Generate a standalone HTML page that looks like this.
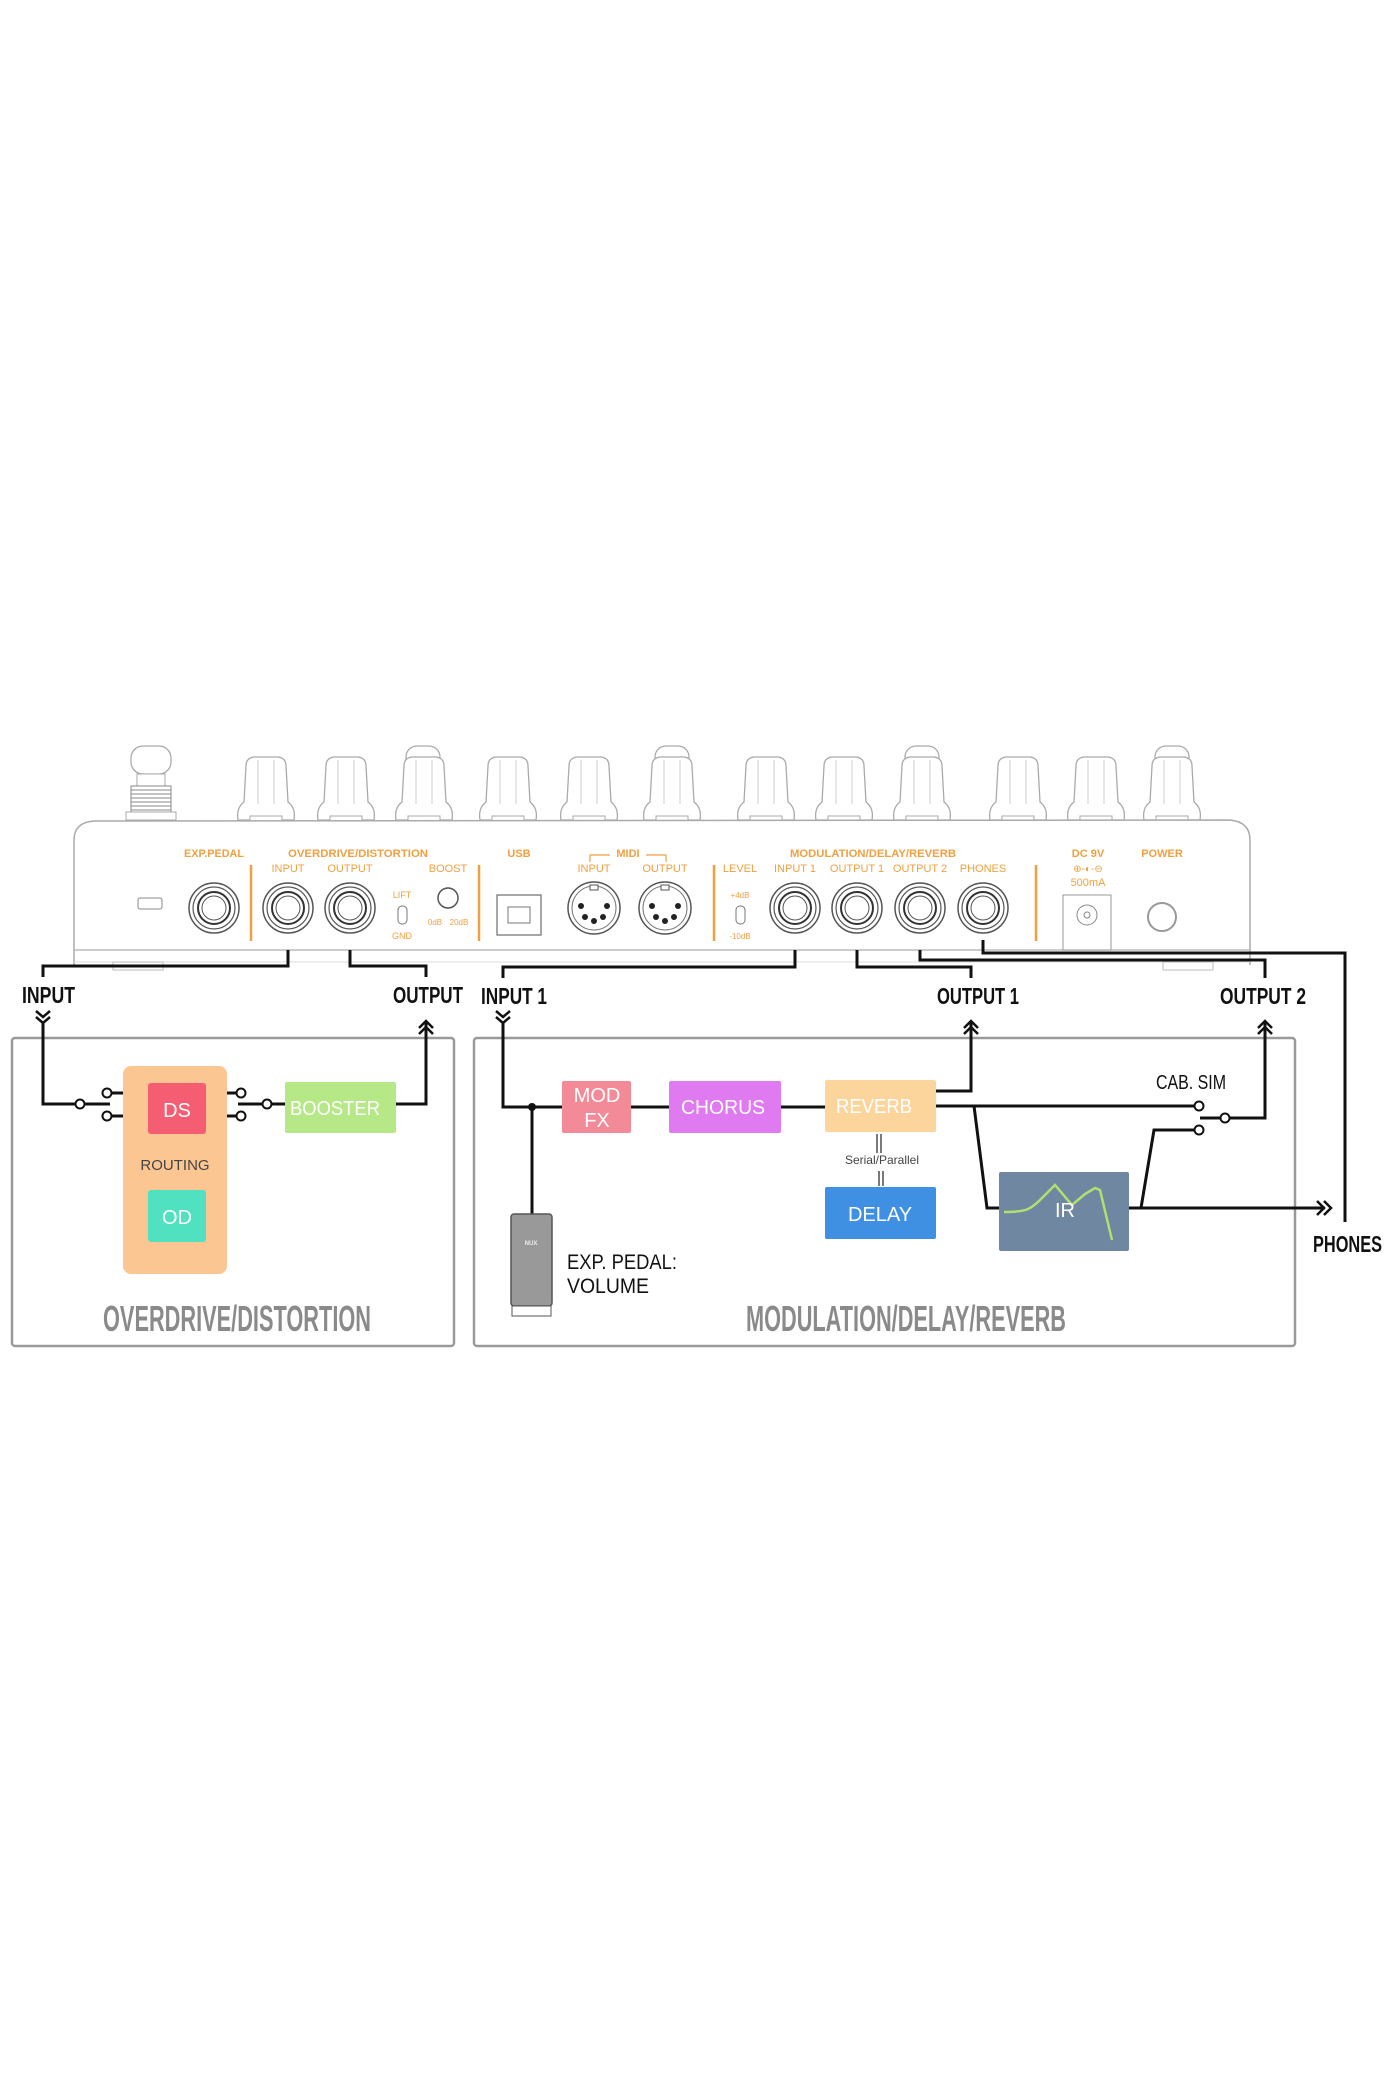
<!DOCTYPE html>
<html><head><meta charset="utf-8"><style>
html,body{margin:0;padding:0;background:#fff;}
svg{display:block;}
</style></head><body>
<svg width="1392" height="2092" viewBox="0 0 1392 2092" xmlns="http://www.w3.org/2000/svg" font-family="Liberation Sans, sans-serif">
<defs>
<g id="knob"><path d="M-28,74 Q-30,62 -22,56 L-20,20 Q-20,12 -12,11 L12,11 Q20,12 20,20 L22,56 Q30,62 28,74 Z" fill="#fff" stroke="#aaa" stroke-width="1.3"/><line x1="-8" y1="14" x2="-8" y2="58" stroke="#ccc"/><line x1="8" y1="14" x2="8" y2="58" stroke="#ccc"/><rect x="-16" y="70" width="32" height="6" fill="#fff" stroke="#aaa"/></g>
<g id="jack"><circle r="25" fill="#fff" stroke="#555" stroke-width="1.5"/><circle r="21" fill="none" stroke="#555" stroke-width="1.2"/><circle r="16" fill="none" stroke="#333" stroke-width="2"/><circle r="12" fill="#fff" stroke="#555" stroke-width="1"/></g>
<g id="midi"><circle r="26" fill="#fff" stroke="#555" stroke-width="1.5"/><circle r="22" fill="none" stroke="#777"/><rect x="-4" y="-23" width="8" height="5" fill="#fff" stroke="#555"/><circle cx="-13" cy="-2" r="3" fill="#222"/><circle cx="13" cy="-2" r="3" fill="#222"/><circle cx="-9" cy="9" r="3" fill="#222"/><circle cx="9" cy="9" r="3" fill="#222"/><circle cx="0" cy="13" r="3" fill="#222"/></g>
</defs>

<g>
<rect x="131" y="746" width="40" height="28" rx="12" fill="#fff" stroke="#aaa" stroke-width="1.3"/>
<rect x="137" y="774" width="28" height="12" fill="#fff" stroke="#aaa"/>
<rect x="131" y="786" width="40" height="28" fill="#fff" stroke="#888"/>
<g stroke="#888" stroke-width="1"><line x1="131" y1="790" x2="171" y2="790"/><line x1="131" y1="794" x2="171" y2="794"/><line x1="131" y1="798" x2="171" y2="798"/><line x1="131" y1="802" x2="171" y2="802"/><line x1="131" y1="806" x2="171" y2="806"/><line x1="131" y1="810" x2="171" y2="810"/></g>
<rect x="126" y="812" width="50" height="8" fill="#fff" stroke="#aaa"/>
<use href="#knob" x="266" y="746"/>
<use href="#knob" x="346" y="746"/>
<rect x="406" y="746" width="34" height="26" rx="11" fill="#fff" stroke="#aaa" stroke-width="1.3"/>
<use href="#knob" x="424" y="746"/>
<use href="#knob" x="508" y="746"/>
<use href="#knob" x="589" y="746"/>
<rect x="655" y="746" width="34" height="26" rx="11" fill="#fff" stroke="#aaa" stroke-width="1.3"/>
<use href="#knob" x="672" y="746"/>
<use href="#knob" x="766" y="746"/>
<use href="#knob" x="844" y="746"/>
<rect x="905" y="746" width="34" height="26" rx="11" fill="#fff" stroke="#aaa" stroke-width="1.3"/>
<use href="#knob" x="922" y="746"/>
<use href="#knob" x="1018" y="746"/>
<use href="#knob" x="1096" y="746"/>
<rect x="1155" y="746" width="34" height="26" rx="11" fill="#fff" stroke="#aaa" stroke-width="1.3"/>
<use href="#knob" x="1172" y="746"/>
</g>
<path d="M74,965 L74,840 Q74,822 95,821 L1230,820 Q1250,822 1250,840 L1250,965" fill="#fff" stroke="#aaa" stroke-width="1.5"/>
<line x1="74" y1="950" x2="1250" y2="950" stroke="#bbb" stroke-width="1.5"/>
<line x1="74" y1="962" x2="1250" y2="962" stroke="#ddd" stroke-width="1"/>
<rect x="113" y="962" width="50" height="8" fill="#fff" stroke="#bbb"/>
<rect x="1163" y="962" width="50" height="8" fill="#fff" stroke="#bbb"/>
<rect x="138" y="898" width="24" height="11" rx="2" fill="#fff" stroke="#888"/>
<g fill="#f0a040" stroke="#f0a040" stroke-width="2.5"><line x1="251" y1="865" x2="251" y2="941"/><line x1="479" y1="865" x2="479" y2="941"/><line x1="714" y1="865" x2="714" y2="941"/><line x1="1036" y1="865" x2="1036" y2="941"/></g>
<g fill="#f0a040" font-weight="bold" font-size="11" text-anchor="middle">
<text x="214" y="857" textLength="60" lengthAdjust="spacingAndGlyphs">EXP.PEDAL</text>
<text x="358" y="857" textLength="140" lengthAdjust="spacingAndGlyphs">OVERDRIVE/DISTORTION</text>
<text x="519" y="857">USB</text>
<text x="628" y="857">MIDI</text>
<text x="873" y="857" textLength="166" lengthAdjust="spacingAndGlyphs">MODULATION/DELAY/REVERB</text>
<text x="1088" y="857">DC 9V</text>
<text x="1162" y="857">POWER</text>
</g>
<path d="M590,862 V855 H610 M646,855 H666 V862" fill="none" stroke="#f0a040" stroke-width="1.2"/>
<g fill="#f0a040" font-size="11" text-anchor="middle">
<text x="288" y="872">INPUT</text><text x="350" y="872">OUTPUT</text><text x="448" y="872">BOOST</text>
<text x="594" y="872">INPUT</text><text x="665" y="872">OUTPUT</text>
<text x="740" y="872">LEVEL</text><text x="795" y="872">INPUT 1</text><text x="857" y="872">OUTPUT 1</text><text x="920" y="872">OUTPUT 2</text><text x="983" y="872">PHONES</text>
<text x="1088" y="886" font-size="11">500mA</text>
<text x="402" y="898" font-size="9">LIFT</text><text x="402" y="939" font-size="9">GND</text>
<text x="435" y="925" font-size="8">0dB</text><text x="459" y="925" font-size="8">20dB</text>
<text x="740" y="898" font-size="8">+4dB</text><text x="740" y="939" font-size="8">-10dB</text>
<text x="1088" y="872" font-size="10">⊕-◐-⊖</text>
</g>
<rect x="398" y="906" width="9" height="18" rx="4" fill="#fff" stroke="#777"/>
<rect x="736" y="906" width="9" height="18" rx="4" fill="#fff" stroke="#777"/>
<circle cx="448" cy="898" r="10" fill="#fff" stroke="#555" stroke-width="1.5"/>
<use href="#jack" x="214" y="908"/><use href="#jack" x="288" y="908"/><use href="#jack" x="350" y="908"/>
<use href="#jack" x="795" y="908"/><use href="#jack" x="857" y="908"/><use href="#jack" x="920" y="908"/><use href="#jack" x="983" y="908"/>
<rect x="497" y="895" width="44" height="40" fill="#fff" stroke="#777" stroke-width="1.3"/>
<rect x="508" y="907" width="22" height="16" fill="#fff" stroke="#777"/>
<use href="#midi" x="594" y="908"/><use href="#midi" x="665" y="908"/>
<rect x="1063" y="895" width="48" height="55" fill="#fff" stroke="#999"/>
<circle cx="1087" cy="915" r="10" fill="#fff" stroke="#888"/><circle cx="1087" cy="915" r="3" fill="none" stroke="#888"/>
<circle cx="1162" cy="917" r="14" fill="#fff" stroke="#999" stroke-width="2"/>

<rect x="12" y="1038" width="442" height="308" rx="3" fill="none" stroke="#999" stroke-width="2.5"/>
<rect x="474" y="1038" width="821" height="308" rx="3" fill="none" stroke="#999" stroke-width="2.5"/>

<g fill="none" stroke="#111" stroke-width="3">
<path d="M288,950 V966 H43 V977"/>
<path d="M350,950 V966 H426 V977"/>
<path d="M795,950 V967 H503 V978"/>
<path d="M857,950 V967 H971 V978"/>
<path d="M920,950 V960 H1265 V978"/>
<path d="M983,940 V953 H1345 V1222"/>
<path d="M43,1022 V1104 H76"/>
<path d="M84,1104 H110"/>
<path d="M111,1093 H123 M111,1116 H123"/>
<path d="M227,1093 H237 M227,1116 H237"/>
<path d="M238,1104 H263 M271,1104 H285"/>
<path d="M396,1104 H426 V1022"/>
<path d="M503,1022 V1107 H562"/>
<path d="M532,1107 V1214"/>
<path d="M631,1107 H669 M781,1107 H825"/>
<path d="M936,1091 H971 V1022"/>
<path d="M936,1106 H1195"/>
<path d="M974,1106 L987,1208 H999"/>
<path d="M1200,1118 H1221 M1229,1118 H1265 V1022"/>
<path d="M1195,1130 H1154 L1141,1208"/>
<path d="M1129,1208 H1325"/>
</g>
<g fill="#fff" stroke="#111" stroke-width="2">
<circle cx="80" cy="1104" r="4.5"/><circle cx="107" cy="1093" r="4.5"/><circle cx="107" cy="1116" r="4.5"/>
<circle cx="241" cy="1093" r="4.5"/><circle cx="241" cy="1116" r="4.5"/><circle cx="267" cy="1104" r="4.5"/>
<circle cx="1199" cy="1106" r="4.5"/><circle cx="1225" cy="1118" r="4.5"/><circle cx="1199" cy="1130" r="4.5"/>
</g>
<circle cx="532" cy="1107" r="4" fill="#111"/>
<g fill="none" stroke="#111" stroke-width="2.5">
<path d="M36,1011 L43,1017 L50,1011 M36,1017 L43,1023 L50,1017"/>
<path d="M496,1011 L503,1017 L510,1011 M496,1017 L503,1023 L510,1017"/>
<path d="M419,1028 L426,1021 L433,1028 M419,1034 L426,1027 L433,1034"/>
<path d="M964,1028 L971,1021 L978,1028 M964,1034 L971,1027 L978,1034"/>
<path d="M1258,1028 L1265,1021 L1272,1028 M1258,1034 L1265,1027 L1272,1034"/>
<path d="M1317,1201 L1324,1208 L1317,1215 M1324,1201 L1331,1208 L1324,1215"/>
</g>
<g font-weight="bold" fill="#111" font-size="23">
<text x="22" y="1003" textLength="53" lengthAdjust="spacingAndGlyphs">INPUT</text>
<text x="393" y="1003" textLength="70" lengthAdjust="spacingAndGlyphs">OUTPUT</text>
<text x="481" y="1004" textLength="66" lengthAdjust="spacingAndGlyphs">INPUT 1</text>
<text x="937" y="1004" textLength="82" lengthAdjust="spacingAndGlyphs">OUTPUT 1</text>
<text x="1220" y="1004" textLength="86" lengthAdjust="spacingAndGlyphs">OUTPUT 2</text>
<text x="1313" y="1252" textLength="69" lengthAdjust="spacingAndGlyphs">PHONES</text>
</g>
<rect x="123" y="1066" width="104" height="208" rx="8" fill="#fbc692"/>
<rect x="148" y="1083" width="58" height="51" rx="3" fill="#f55e72"/>
<rect x="148" y="1190" width="58" height="52" rx="3" fill="#50e2c0"/>
<rect x="285" y="1082" width="111" height="51" rx="2" fill="#b6e888"/>
<rect x="562" y="1081" width="69" height="52" rx="2" fill="#f28a98"/>
<rect x="669" y="1081" width="112" height="52" rx="2" fill="#e07af0"/>
<rect x="825" y="1080" width="111" height="52" rx="2" fill="#fbd59c"/>
<rect x="825" y="1187" width="111" height="52" rx="2" fill="#3f8fe2"/>
<rect x="999" y="1172" width="130" height="79" rx="2" fill="#6f87a0"/>
<path d="M1004,1212 C1025,1212 1030,1210 1040,1200 L1055,1185 L1072,1205 L1085,1194 L1095,1188 L1100,1190 L1112,1240" fill="none" stroke="#b0e070" stroke-width="2.5"/>
<g fill="#fff" font-size="20" text-anchor="middle">
<text x="177" y="1117">DS</text><text x="177" y="1224">OD</text>
<text x="335" y="1115" textLength="90" lengthAdjust="spacingAndGlyphs">BOOSTER</text>
<text x="597" y="1102">MOD</text><text x="597" y="1127">FX</text>
<text x="723" y="1114" textLength="84" lengthAdjust="spacingAndGlyphs">CHORUS</text>
<text x="874" y="1113" textLength="76" lengthAdjust="spacingAndGlyphs">REVERB</text>
<text x="880" y="1221">DELAY</text>
<text x="1065" y="1217">IR</text>
</g>
<text x="175" y="1170" font-size="15" fill="#444" text-anchor="middle">ROUTING</text>
<text x="882" y="1164" font-size="12" fill="#444" text-anchor="middle">Serial/Parallel</text>
<g stroke="#222" stroke-width="1.2"><line x1="877" y1="1134" x2="877" y2="1153"/><line x1="881" y1="1134" x2="881" y2="1153"/><line x1="879" y1="1171" x2="879" y2="1186"/><line x1="883" y1="1171" x2="883" y2="1186"/></g>
<text x="1156" y="1089" font-size="20" fill="#111" textLength="70" lengthAdjust="spacingAndGlyphs">CAB. SIM</text>
<rect x="511" y="1214" width="41" height="92" rx="3" fill="#999" stroke="#555" stroke-width="1.5"/>
<rect x="512" y="1306" width="39" height="10" fill="#fff" stroke="#555"/>
<text x="531" y="1245" font-size="6" font-weight="bold" fill="#eee" text-anchor="middle">NUX</text>
<text x="567" y="1269" font-size="21" fill="#111" textLength="110" lengthAdjust="spacingAndGlyphs">EXP. PEDAL:</text>
<text x="567" y="1293" font-size="21" fill="#111" textLength="82" lengthAdjust="spacingAndGlyphs">VOLUME</text>
<g fill="#8a8a8a" font-weight="bold" font-size="36">
<text x="103" y="1331" textLength="268" lengthAdjust="spacingAndGlyphs">OVERDRIVE/DISTORTION</text>
<text x="746" y="1331" textLength="320" lengthAdjust="spacingAndGlyphs">MODULATION/DELAY/REVERB</text>
</g>
</svg>
</body></html>
